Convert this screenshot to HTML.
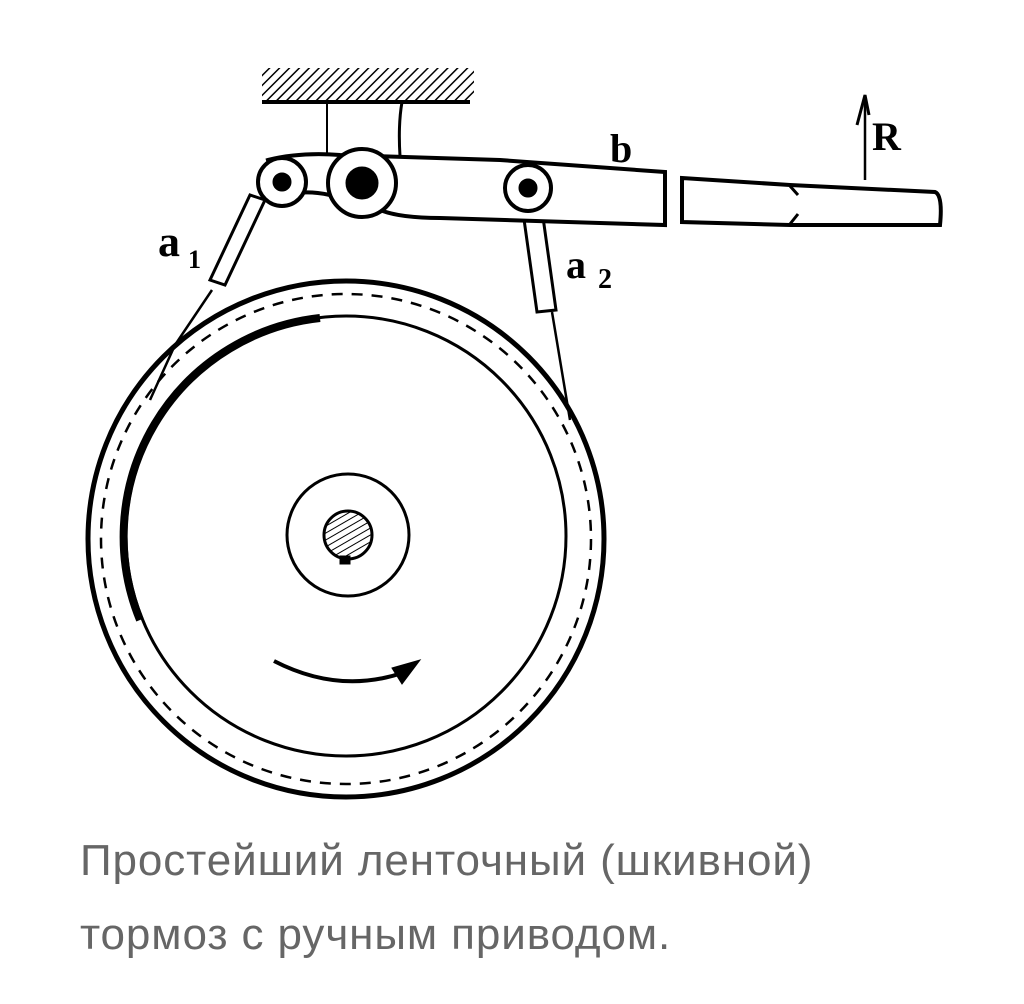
<!DOCTYPE html>
<html><head><meta charset="utf-8"><style>
html,body{margin:0;padding:0;background:#fff;width:1024px;height:1004px;overflow:hidden}
.cap{position:absolute;left:80px;font-family:"Liberation Sans",sans-serif;font-size:44px;color:#666;letter-spacing:0.9px;white-space:nowrap}
</style></head><body>
<svg width="1024" height="1004" style="position:absolute;left:0;top:0">
<defs>
<pattern id="h" width="7" height="7" patternUnits="userSpaceOnUse" patternTransform="rotate(45)">
<line x1="0" y1="0" x2="0" y2="7" stroke="#000" stroke-width="3"/></pattern>
<pattern id="h2" width="6" height="6" patternUnits="userSpaceOnUse" patternTransform="rotate(-30)">
<line x1="0" y1="0" x2="6" y2="0" stroke="#000" stroke-width="2"/></pattern>
</defs>
<g fill="none" stroke="#000">
<circle cx="346" cy="539" r="258" stroke-width="5"/>
<circle cx="346" cy="539" r="245" stroke-width="2.5" stroke-dasharray="11 9"/>
<circle cx="346" cy="536" r="220" stroke-width="3"/>
<path d="M140 620 A220 220 0 0 1 320 318" stroke-width="8"/>
<circle cx="348" cy="535" r="61" stroke-width="3"/>
<circle cx="348" cy="535" r="24" fill="url(#h2)" stroke-width="3"/>
<rect x="340" y="556" width="10" height="8" fill="#000"/>
<path d="M274 661 Q340 695 405 672" stroke-width="4"/>
<path d="M392 668 L420 660 L402 684 Z" fill="#000" stroke-width="1"/>
<path d="M212 290 L175 345 L150 400" stroke-width="2.5"/>
<path d="M552 312 L570 420" stroke-width="2.5"/>
<rect x="262" y="68" width="212" height="32" fill="url(#h)" stroke="none"/>
<line x1="262" y1="102" x2="470" y2="102" stroke-width="4"/>
<line x1="327" y1="102" x2="327" y2="158" stroke-width="2"/>
<path d="M402 102 Q398 125 400 156" stroke-width="3"/>
<path d="M265 200 L225 285 L210 280 L250 195 Z" fill="#fff" stroke-width="3"/>
<path d="M522 205 L537 312 L556 310 L541 203 Z" fill="#fff" stroke-width="3"/>
<path d="M268 160 Q300 152 340 155 L500 160 L665 172 L665 225 L440 218 Q400 218 380 210 L330 195 Q295 188 280 200 Z" fill="#fff" stroke-width="4"/>
<path d="M682 178 L790 185 L935 192 Q943 195 940 225 L790 225 L682 222 Z" fill="#fff" stroke-width="4"/>
<path d="M790 186 L798 195 M790 224 L798 214" stroke-width="3"/>
<circle cx="282" cy="182" r="24" fill="#fff" stroke-width="4"/>
<circle cx="282" cy="182" r="9" fill="#000"/>
<circle cx="362" cy="183" r="34" fill="#fff" stroke-width="4"/>
<circle cx="362" cy="183" r="16" fill="#000"/>
<circle cx="528" cy="188" r="23" fill="#fff" stroke-width="4"/>
<circle cx="528" cy="188" r="9" fill="#000"/>
<line x1="865" y1="180" x2="865" y2="95" stroke-width="2.5"/>
<path d="M857 125 L865 95 L869 115" stroke-width="3"/>
</g>
<g font-family="Liberation Serif,serif" font-weight="bold" fill="#000">
<text x="610" y="162" font-size="40">b</text>
<text x="872" y="150" font-size="40">R</text>
<text x="158" y="256" font-size="44">a</text>
<text x="188" y="268" font-size="26">1</text>
<text x="566" y="278" font-size="40">a</text>
<text x="598" y="288" font-size="28">2</text>
</g>
</svg>
<div class="cap" style="top:836px">Простейший ленточный (шкивной)</div>
<div class="cap" style="top:910px">тормоз с ручным приводом.</div>
</body></html>
